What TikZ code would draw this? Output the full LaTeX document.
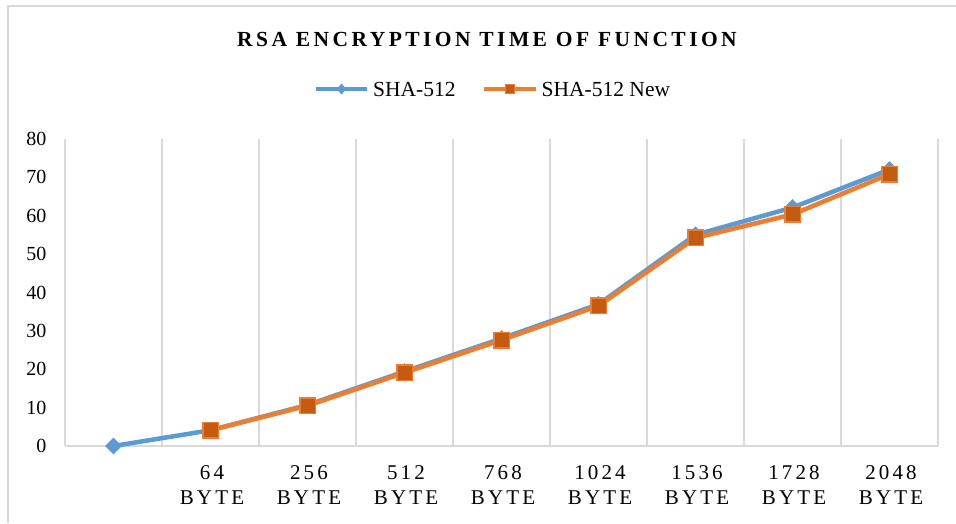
\documentclass[tikz,border=0pt]{standalone}
\usepackage{fontspec}
\setmainfont{Liberation Serif}
\newfontfamily\trackedfont[LetterSpace=15]{Liberation Serif}
\newfontfamily\headfont[LetterSpace=16]{Liberation Serif}
\usetikzlibrary{shapes.geometric}

\definecolor{gridgray}{HTML}{D9D9D9}
\definecolor{serblue}{HTML}{5B9BD5}
\definecolor{serorange}{HTML}{ED7D31}
\definecolor{markfill}{HTML}{C55A11}

\tikzset{
  frameline/.style={draw=gridgray, line width=1.5pt},
  gridline/.style={draw=gridgray, line width=1.5pt},
  blueline/.style={draw=serblue, line width=4.5pt, line join=round, line cap=round},
  orangeline/.style={draw=serorange, line width=4.5pt, line join=round, line cap=round},
  bluemark/.style={diamond, fill=serblue, inner sep=0pt, minimum width=17pt, minimum height=17pt},
  orangemark/.style={rectangle, fill=markfill, draw=serorange, line width=1.5pt, inner sep=0pt, minimum size=15.5pt},
  ylab/.style={anchor=base east, inner sep=0pt, font=\fontsize{20}{23}\selectfont},
  xlab/.style={anchor=base, inner sep=0pt, font=\fontsize{21}{24}\selectfont\trackedfont},
  leglab/.style={anchor=base west, inner sep=0pt, font=\fontsize{21.5}{25}\selectfont},
  titlelab/.style={anchor=base, inner sep=0pt, font=\fontsize{21.5}{25}\selectfont\headfont\bfseries},
}

\begin{document}
\begin{tikzpicture}[x=1pt, y=-1pt]
\useasboundingbox (0,0) rectangle (956,523);

% chart frame (left and top edges)
\draw[frameline] (7.8,523) -- (7.8,5.8) -- (956,5.8);

% title
\node[titlelab] (title) at (487,46) {RSA ENCRYPTION TIME OF FUNCTION};

% legend
\coordinate (lb1) at (316,89);
\coordinate (lb2) at (367,89);
\coordinate (lo1) at (484,89);
\coordinate (lo2) at (536,89);
\draw[blueline, line cap=butt] (lb1) -- (lb2);
\node[bluemark, minimum width=10pt, minimum height=11pt] (lbm) at (341.5,89) {};
\node[leglab] (lbt) at (373,96.5) {SHA-512};
\draw[orangeline, line cap=butt] (lo1) -- (lo2);
\node[orangemark, minimum size=9pt, line width=1pt] (lom) at (510,89) {};
\node[leglab] (lot) at (541.5,96.5) {SHA-512 New};

% vertical gridlines and category axis
\foreach \i in {0,...,9}
  \draw[gridline] ({65+97*\i},139) -- ({65+97*\i},446);
\draw[gridline] (65,446) -- (938,446);

% value axis labels
\foreach \v in {0,10,...,80}
  \node[ylab] (y\v) at (46.5,{446-3.84*\v+6.6}) {\v};

% category labels
\foreach \i/\n in {1/64,2/256,3/512,4/768,5/1024,6/1536,7/1728,8/2048} {
  \node[xlab] (n\i) at ({65+97*(\i+0.5)+1.5},479.5) {\n};
  \node[xlab] (u\i) at ({65+97*(\i+0.5)+1.5},504) {BYTE};
}

% SHA-512 series
\foreach \i/\v in {0/0,1/4.1,2/10.7,3/19.4,4/28.0,5/36.9,6/55.0,7/62.1,8/72.0}
  \coordinate (b\i) at ({65+97*(\i+0.5)},{446-3.84*\v});
\draw[blueline] (b0) \foreach \i in {1,...,8} { -- (b\i) };
\foreach \i in {0,...,8}
  \node[bluemark] (bm\i) at (b\i) {};

% SHA-512 New series
\foreach \i/\v in {1/4.1,2/10.5,3/19.1,4/27.6,5/36.5,6/54.2,7/60.3,8/70.8}
  \coordinate (o\i) at ({65+97*(\i+0.5)},{446-3.84*\v});
\draw[orangeline] (o1) \foreach \i in {2,...,8} { -- (o\i) };
\foreach \i in {1,...,8}
  \node[orangemark] (om\i) at (o\i) {};
\end{tikzpicture}
\end{document}
